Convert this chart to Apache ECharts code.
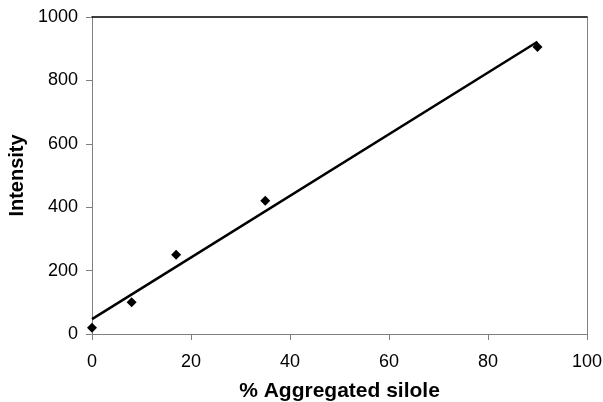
<!DOCTYPE html>
<html><head><meta charset="utf-8">
<script src="https://cdn.jsdelivr.net/npm/echarts@6/dist/echarts.min.js"></script>
<style>html,body{margin:0;padding:0;background:#fff}#c{width:603px;height:402px}</style>
</head><body><div id="c"></div>
<script>
const pointsX = [0, 8, 17, 35, 90];
const pointsY = [20, 100, 250, 420, 905];
const trendX = [0, 90];
const trendY = [47, 922];
const xTicks = [0, 20, 40, 60, 80, 100];
const yTicks = [0, 200, 400, 600, 800, 1000];

const font = '"Liberation Sans", Arial, sans-serif';
const chart = echarts.init(document.getElementById('c'));
chart.setOption({
  animation: false,
  grid: {left: 92, right: 16, top: 17, bottom: 68, containLabel: false, outerBoundsMode: 'none'},
  xAxis: [{
    type: 'value', min: xTicks[0], max: xTicks[xTicks.length-1], interval: 20,
    name: '% Aggregated silole', nameLocation: 'middle', nameGap: 47,
    nameTextStyle: {fontFamily: font, fontSize: 21, fontWeight: 'bold', color: '#000'},
    axisLine: {show: true, onZero: false, lineStyle: {color: '#808080', width: 1}},
    axisTick: {show: true, inside: false, length: 6, lineStyle: {color: '#808080'}},
    axisLabel: {fontFamily: font, fontSize: 18, color: '#000', margin: 19, formatter: v => String(v)},
    splitLine: {show: false}
  }, {
    type: 'value', position: 'top', min: 0, max: 100,
    axisLine: {show: true, onZero: false, lineStyle: {color: '#000', width: 1.5}},
    axisTick: {show: false}, axisLabel: {show: false}, splitLine: {show: false}
  }],
  yAxis: [{
    type: 'value', min: yTicks[0], max: yTicks[yTicks.length-1], interval: 200,
    name: 'Intensity', nameLocation: 'middle', nameGap: 63, nameRotate: 90,
    nameTextStyle: {fontFamily: font, fontSize: 20, fontWeight: 'bold', color: '#000'},
    axisLine: {show: true, onZero: false, lineStyle: {color: '#808080', width: 1}},
    axisTick: {show: true, inside: false, length: 6, lineStyle: {color: '#808080'}},
    axisLabel: {fontFamily: font, fontSize: 18, color: '#000', margin: 14, formatter: v => String(v)},
    splitLine: {show: false}
  }, {
    type: 'value', position: 'right', min: 0, max: 1000,
    axisLine: {show: true, onZero: false, lineStyle: {color: '#808080', width: 1}},
    axisTick: {show: false}, axisLabel: {show: false}, splitLine: {show: false}
  }],
  series: [{
    type: 'line', data: trendX.map((x, i) => [x, trendY[i]]),
    showSymbol: false, symbol: 'none',
    lineStyle: {color: '#000', width: 2.5}, z: 2
  }, {
    type: 'scatter', data: pointsX.map((x, i) => [x, pointsY[i]]),
    symbol: 'diamond', symbolSize: [10, 10],
    itemStyle: {color: '#000', opacity: 1}, z: 3
  }]
});
</script></body></html>
